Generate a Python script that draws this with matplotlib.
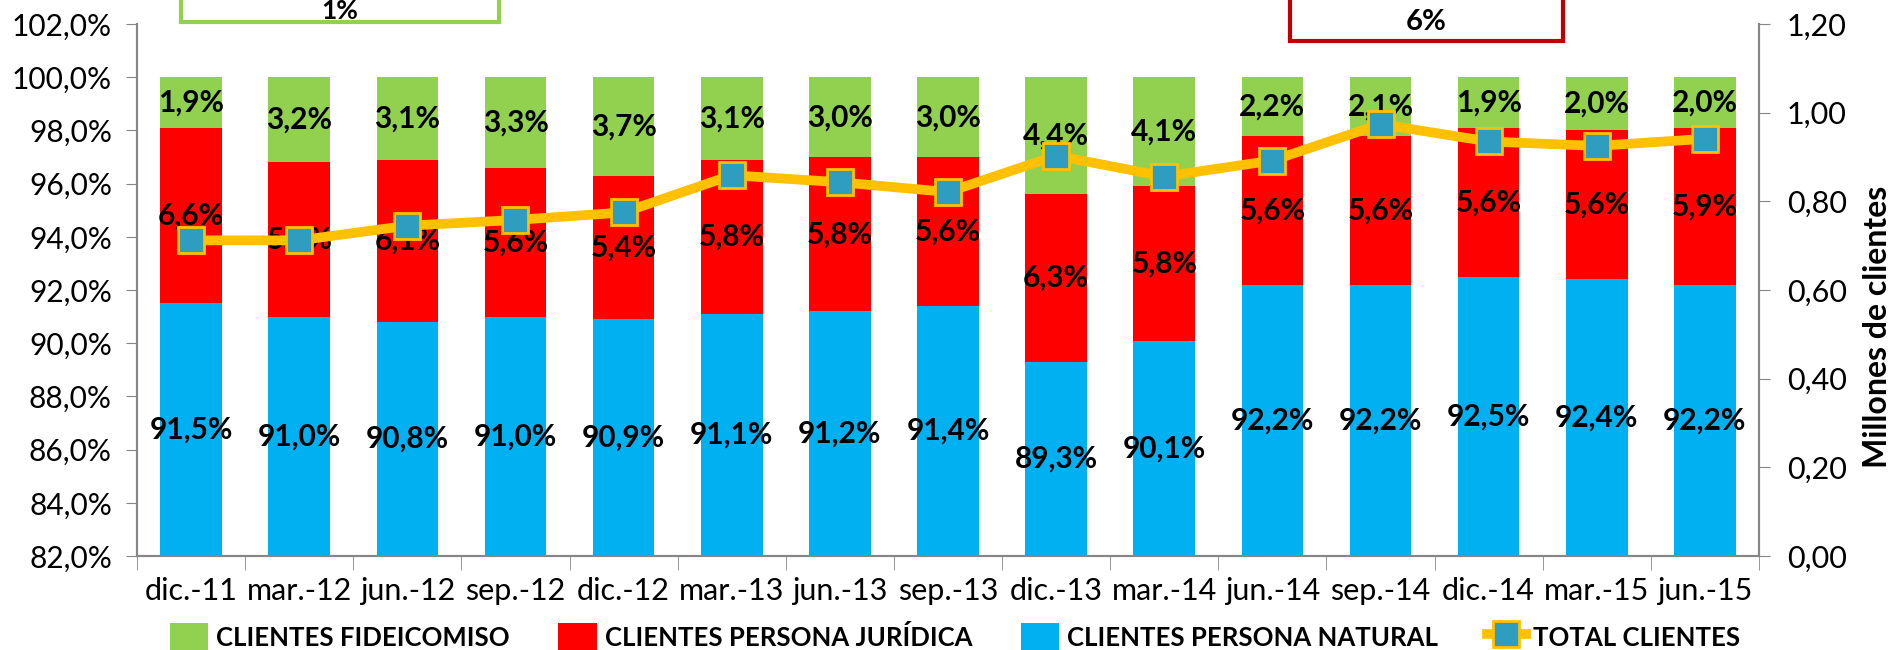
import numpy as np
import matplotlib.pyplot as plt
from matplotlib.patches import Rectangle
from matplotlib.ticker import FuncFormatter

periodos = ['dic.-11', 'mar.-12', 'jun.-12', 'sep.-12', 'dic.-12', 'mar.-13', 'jun.-13',
            'sep.-13', 'dic.-13', 'mar.-14', 'jun.-14', 'sep.-14', 'dic.-14', 'mar.-15', 'jun.-15']
natural = [91.5, 91.0, 90.8, 91.0, 90.9, 91.1, 91.2, 91.4, 89.3, 90.1, 92.2, 92.2, 92.5, 92.4, 92.2]
juridica = [6.6, 5.8, 6.1, 5.6, 5.4, 5.8, 5.8, 5.6, 6.3, 5.8, 5.6, 5.6, 5.6, 5.6, 5.9]
fideicomiso = [1.9, 3.2, 3.1, 3.3, 3.7, 3.1, 3.0, 3.0, 4.4, 4.1, 2.2, 2.1, 1.9, 2.0, 2.0]
total = [0.712, 0.712, 0.745, 0.758, 0.775, 0.859, 0.843, 0.821, 0.903, 0.856,
         0.892, 0.974, 0.935, 0.925, 0.941]

plt.rcParams['font.family'] = ['Lato', 'DejaVu Sans']

verde = '#92D050'
rojo = '#FF0000'
azul = '#00B0F0'
naranja = '#FFC000'
gris = '#868686'

fig = plt.figure(figsize=(18.95, 6.5), dpi=100)
ax = fig.add_axes([137/1895, 1 - 556/650, (1759-137)/1895, (556-24)/650])
ax2 = ax.twinx()

x = np.arange(len(periodos))
nat = np.array(natural)
jur = np.array(juridica)
fid = np.array(fideicomiso)
w = 0.57
ymin = 82.0

ax.bar(x, nat - ymin, w, bottom=ymin, color=azul, label='CLIENTES PERSONA NATURAL', zorder=2)
ax.bar(x, jur, w, bottom=nat, color=rojo, label='CLIENTES PERSONA JURÍDICA', zorder=2)
ax.bar(x, 100 - nat - jur, w, bottom=nat + jur, color=verde, label='CLIENTES FIDEICOMISO', zorder=2)

def fmt(v):
    return ('%.1f%%' % v).replace('.', ',')

lab = dict(fontsize=21.5, fontweight='bold', ha='center', va='center', zorder=5)
for i in range(len(x)):
    ax.text(x[i], (ymin + nat[i]) / 2, fmt(nat[i]), **lab)
    ax.text(x[i], nat[i] + jur[i] / 2, fmt(jur[i]), **lab)
    ax.text(x[i], (nat[i] + jur[i] + 100) / 2, fmt(fid[i]), **lab)

ax2.plot(x, total, color=naranja, lw=7, marker='s', markersize=19,
         markerfacecolor='#2E9DC0', markeredgecolor=naranja, markeredgewidth=2,
         label='TOTAL CLIENTES', zorder=4)

ax.set_xlim(-0.5, len(x) - 0.5)
ax.set_ylim(82, 102)
ax.set_yticks(np.arange(82, 102.1, 2))
ax.yaxis.set_major_formatter(FuncFormatter(lambda v, p: fmt(v)))
ax2.set_ylim(0, 1.2)
ax2.set_yticks(np.arange(0, 1.21, 0.2))
ax2.yaxis.set_major_formatter(FuncFormatter(lambda v, p: ('%.2f' % v).replace('.', ',')))
ax2.set_ylabel('Millones de clientes', fontsize=23, fontweight='bold', labelpad=12)
ax2.yaxis.label.set_y(0.43)

ax.set_xticks(x)
ax.set_xticklabels(periodos)
ax.set_xticks(np.arange(-0.5, len(x), 1), minor=True)
ax.tick_params(axis='x', which='major', length=0, labelsize=22, pad=15)
ax.tick_params(axis='x', which='minor', length=10, color=gris)
ax.tick_params(axis='y', labelsize=21.5, length=8, color=gris, pad=10)
ax2.tick_params(axis='y', labelsize=22, length=8, color=gris, pad=12)

for a in (ax, ax2):
    a.spines['top'].set_visible(False)
    for s in ('left', 'right', 'bottom'):
        a.spines[s].set_color(gris)
        a.spines[s].set_linewidth(1.5)
ax2.set_zorder(ax.get_zorder() + 1)
ax2.patch.set_visible(False)

# cajas de variacion en la parte superior
fig.patches.append(Rectangle((181/1895, 1 - 22/650), 318/1895, 40/650, transform=fig.transFigure,
                             facecolor='white', edgecolor=verde, lw=3))
fig.text(340/1895, 1 - 11/650, '1%', fontsize=19, fontweight='bold', ha='center', va='center')
fig.patches.append(Rectangle((1290/1895, 1 - 41/650), 273/1895, 60/650, transform=fig.transFigure,
                             facecolor='white', edgecolor='#C00000', lw=3))
fig.text(1426/1895, 1 - 22/650, '6%', fontsize=21, fontweight='bold', ha='center', va='center')

h1, l1 = ax.get_legend_handles_labels()
h2, l2 = ax2.get_legend_handles_labels()
orden = [2, 1, 0]
handles = [h1[i] for i in orden] + h2
labels = [l1[i] for i in orden] + l2
fig.legend(handles, labels, loc='center', bbox_to_anchor=(955/1895, 1 - 637/650), ncol=4,
           frameon=False, prop={'weight': 'bold', 'size': 18.5},
           handlelength=1.5, handleheight=1.3, columnspacing=1.9, handletextpad=0.3)

fig.savefig('out.png', dpi=100)
